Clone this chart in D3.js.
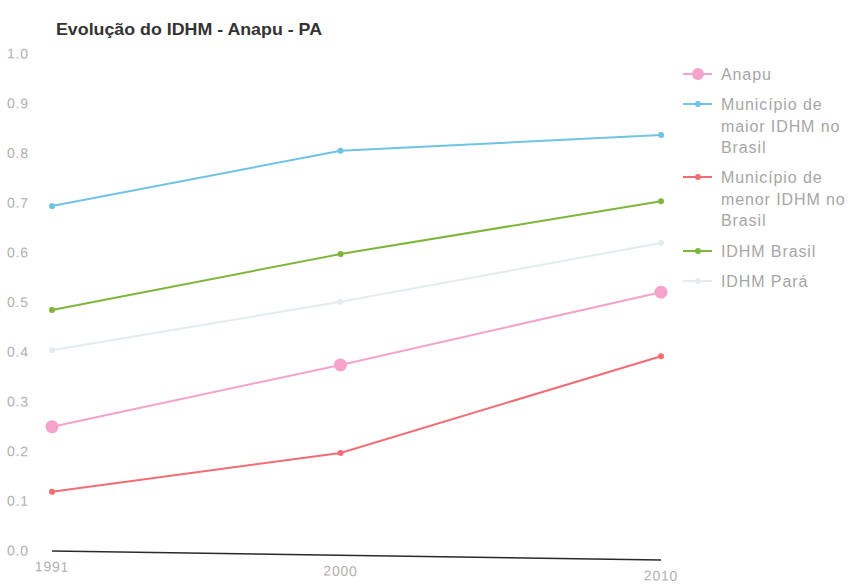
<!DOCTYPE html>
<html>
<head>
<meta charset="utf-8">
<script src="https://cdn.jsdelivr.net/npm/d3@7"></script>
<style>
  html, body { margin: 0; padding: 0; background: #fff; }
  svg { display: block; }
</style>
</head>
<body>
<svg id="chart" width="849" height="585"></svg>
<script>
// Years on the x axis
const years = [1991, 2000, 2010];

// IDHM per series
const anapu    = [0.250, 0.383, 0.539];
const maiorBR  = [0.694, 0.814, 0.855];
const menorBR  = [0.119, 0.206, 0.410];
const brasil   = [0.485, 0.606, 0.722];
const para     = [0.404, 0.510, 0.638];

const yTicks = [0, 0.1, 0.2, 0.3, 0.4, 0.5, 0.6, 0.7, 0.8, 0.9, 1.0];

const seriesNames = ["Anapu", "Município de maior IDHM no Brasil", "Município de menor IDHM no Brasil", "IDHM Brasil", "IDHM Pará"];
const legendLines = [["Anapu"], ["Município de", "maior IDHM no", "Brasil"], ["Município de", "menor IDHM no", "Brasil"], ["IDHM Brasil"], ["IDHM Pará"]];
const colors = ["#f5a3cb", "#6fc3e6", "#f16d73", "#80b53c", "#e4ecf1"];
const markerR = [6.5, 3, 3, 3, 3];

const series = [anapu, maiorBR, menorBR, brasil, para].map((vals, i) => ({
  name: seriesNames[i], color: colors[i], r: markerR[i],
  points: years.map((y, j) => ({ year: y, value: vals[j] }))
}));

const svg = d3.select("#chart");
const FONT = "Liberation Sans, Arial, sans-serif";

const x = d3.scaleLinear().domain([1991, 2010]).range([52, 661]);
const y = d3.scaleLinear().domain([0, 1]).range([551, 54]);

// Title
svg.append("text")
  .attr("x", 56).attr("y", 35)
  .attr("font-family", FONT)
  .attr("font-weight", "bold")
  .attr("font-size", 16.5)
  .attr("textLength", 266)
  .attr("lengthAdjust", "spacingAndGlyphs")
  .attr("fill", "#333")
  .text("Evolução do IDHM - Anapu - PA");

// Plot area, slightly sheared
const plot = svg.append("g")
  .attr("transform", "translate(52,0) skewY(0.85) translate(-52,0)");

// Y tick labels
plot.append("g").selectAll("text")
  .data(yTicks)
  .join("text")
  .attr("x", 7)
  .attr("y", d => y(d) + 5)
  .attr("font-family", FONT)
  .attr("font-size", 14)
  .attr("letter-spacing", 0.8)
  .attr("fill", "#afafaf")
  .text(d => d.toFixed(1));

// X axis baseline
plot.append("line")
  .attr("x1", x(1991)).attr("x2", x(2010))
  .attr("y1", y(0)).attr("y2", y(0))
  .attr("stroke", "#2a2a2a").attr("stroke-width", 1.6);

// X tick labels
plot.append("g").selectAll("text")
  .data(years)
  .join("text")
  .attr("x", d => x(d))
  .attr("y", y(0) + 20.5)
  .attr("text-anchor", "middle")
  .attr("font-family", FONT)
  .attr("font-size", 14)
  .attr("letter-spacing", 0.8)
  .attr("fill", "#afafaf")
  .text(d => d);

const line = d3.line().x(d => x(d.year)).y(d => y(d.value));

// Draw lighter series first so the stronger lines sit on top
const drawOrder = [4, 3, 1, 0, 2];
drawOrder.forEach(i => {
  const s = series[i];
  const g = plot.append("g");
  g.append("path")
    .datum(s.points)
    .attr("d", line)
    .attr("fill", "none")
    .attr("stroke", s.color)
    .attr("stroke-width", 2);
  g.selectAll("circle")
    .data(s.points)
    .join("circle")
    .attr("cx", d => x(d.year))
    .attr("cy", d => y(d.value))
    .attr("r", s.r)
    .attr("fill", s.color);
});

// Legend
const legendTop = [74, 104, 177, 251, 281];
const legend = svg.append("g");
series.forEach((s, i) => {
  const g = legend.append("g").attr("transform", `translate(0,${legendTop[i]})`);
  g.append("line")
    .attr("x1", 683).attr("x2", 712)
    .attr("y1", 0).attr("y2", 0)
    .attr("stroke", s.color).attr("stroke-width", 2);
  g.append("circle")
    .attr("cx", 698).attr("cy", 0)
    .attr("r", s.r === 3 ? 3 : 6)
    .attr("fill", s.color);
  g.selectAll("text")
    .data(legendLines[i])
    .join("text")
    .attr("x", 721)
    .attr("y", (d, k) => k * 21.5 + 6)
    .attr("font-family", FONT)
    .attr("font-size", 16)
    .attr("letter-spacing", 0.9)
    .attr("fill", "#a6a6a6")
    .text(d => d);
});
</script>
</body>
</html>
